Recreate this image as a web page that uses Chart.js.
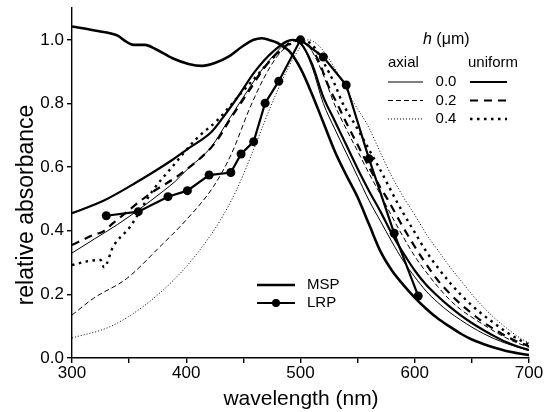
<!DOCTYPE html>
<html>
<head>
<meta charset="utf-8">
<script src="https://cdn.jsdelivr.net/npm/chart.js@4/dist/chart.umd.min.js"></script>
<style>
  body { margin: 0; background: #fff; }
  canvas { display: block; }
</style>
</head>
<body>
<canvas id="chart" width="551" height="412"></canvas>
<script>
// measured spectra
const mspWl  = [300, 320, 340, 347, 354, 364, 373, 388, 402, 414, 425, 437, 449, 459, 466, 472, 480, 490, 500, 510, 520, 530, 540, 550, 560, 570, 580, 590, 600, 610, 620, 630, 640, 650, 660, 670, 680, 690, 700];
const mspAbs = [1.042, 1.029, 1.013, 0.995, 0.984, 0.984, 0.971, 0.942, 0.924, 0.918, 0.927, 0.947, 0.979, 1.0, 1.005, 1.0, 0.99, 0.965, 0.91, 0.83, 0.74, 0.65, 0.575, 0.505, 0.42, 0.335, 0.275, 0.23, 0.19, 0.155, 0.125, 0.10, 0.077, 0.058, 0.044, 0.032, 0.022, 0.015, 0.009];

const lrpWl  = [330, 358, 384, 401, 420, 439, 448, 459, 469, 481, 500, 520, 540, 560, 582, 603];
const lrpAbs = [0.447, 0.46, 0.507, 0.526, 0.575, 0.583, 0.641, 0.68, 0.801, 0.87, 1.0, 0.946, 0.858, 0.626, 0.392, 0.195];

// model spectra, axial (thin) and uniform (thick), h = 0.0 / 0.2 / 0.4 um
const ax0Wl  = [300, 320, 340, 358, 380, 390, 400, 422, 437, 450, 465, 480, 492, 500, 510, 520, 530, 540, 550, 560, 570, 580, 590, 600, 610, 620, 630, 640, 650, 660, 670, 680, 690, 700];
const ax0Abs = [0.33, 0.375, 0.42, 0.465, 0.525, 0.554, 0.59, 0.664, 0.748, 0.82, 0.9, 0.965, 1.0, 0.99, 0.915, 0.8, 0.72, 0.645, 0.57, 0.495, 0.43, 0.365, 0.305, 0.255, 0.21, 0.175, 0.145, 0.12, 0.097, 0.077, 0.06, 0.046, 0.034, 0.024];

const ax2Wl  = [300, 319, 348, 377, 400, 424, 440, 455, 468, 480, 490, 498, 505, 510, 520, 530, 540, 550, 560, 572, 580, 590, 600, 610, 620, 630, 640, 650, 660, 670, 680, 690, 700];
const ax2Abs = [0.135, 0.188, 0.25, 0.35, 0.434, 0.54, 0.645, 0.78, 0.88, 0.95, 0.985, 1.0, 0.99, 0.965, 0.89, 0.795, 0.72, 0.65, 0.58, 0.5, 0.445, 0.38, 0.32, 0.27, 0.225, 0.185, 0.153, 0.128, 0.105, 0.083, 0.063, 0.047, 0.034];

const ax4Wl  = [300, 333, 362, 392, 412, 430, 444, 455, 465, 475, 485, 495, 507, 515, 525, 535, 547, 559, 570, 580, 591, 600, 610, 620, 630, 640, 650, 660, 670, 680, 690, 700];
const ax4Abs = [0.063, 0.098, 0.161, 0.256, 0.34, 0.434, 0.528, 0.62, 0.71, 0.8, 0.88, 0.95, 1.0, 0.985, 0.94, 0.88, 0.8, 0.73, 0.645, 0.57, 0.5, 0.45, 0.39, 0.34, 0.29, 0.245, 0.2, 0.16, 0.125, 0.095, 0.068, 0.047];

const uni0Wl  = [300, 328, 355, 388, 402, 422, 434, 446, 460, 475, 493, 500, 510, 520, 530, 540, 550, 560, 570, 580, 590, 600, 610, 620, 630, 640, 650, 660, 670, 680, 690, 700];
const uni0Abs = [0.455, 0.495, 0.549, 0.623, 0.659, 0.71, 0.765, 0.825, 0.9, 0.96, 1.0, 0.99, 0.925, 0.82, 0.745, 0.67, 0.595, 0.525, 0.46, 0.39, 0.33, 0.275, 0.23, 0.195, 0.163, 0.135, 0.11, 0.088, 0.068, 0.05, 0.036, 0.025];

const uni2Wl  = [300, 319, 327, 336, 367, 396, 425, 440, 455, 470, 485, 497, 505, 515, 525, 532, 540, 550, 560, 570, 576, 590, 600, 610, 620, 630, 640, 650, 660, 670, 680, 690, 700];
const uni2Abs = [0.355, 0.387, 0.397, 0.424, 0.513, 0.581, 0.675, 0.759, 0.84, 0.92, 0.975, 1.0, 0.99, 0.94, 0.85, 0.8, 0.74, 0.67, 0.6, 0.535, 0.5, 0.41, 0.35, 0.295, 0.245, 0.205, 0.17, 0.14, 0.112, 0.09, 0.068, 0.051, 0.037];

const uni4Wl  = [300, 315, 325, 328, 336, 351, 370, 388, 408, 428, 445, 460, 475, 490, 500, 510, 520, 530, 537, 550, 560, 570, 583, 590, 600, 610, 620, 630, 640, 650, 660, 670, 680, 690, 700];
const uni4Abs = [0.292, 0.305, 0.308, 0.285, 0.35, 0.413, 0.523, 0.602, 0.686, 0.75, 0.82, 0.88, 0.94, 0.985, 1.0, 0.985, 0.93, 0.86, 0.8, 0.72, 0.655, 0.59, 0.5, 0.455, 0.395, 0.335, 0.285, 0.24, 0.2, 0.165, 0.135, 0.108, 0.082, 0.06, 0.042];

const xTicks = [300, 350, 400, 450, 500, 550, 600, 650, 700];
const yTicks = [0.0, 0.2, 0.4, 0.6, 0.8, 1.0];
const hValues = ['0.0', '0.2', '0.4'];

const FONT = '"Liberation Sans", Arial, sans-serif';
const pts = (xs, ys) => xs.map((x, i) => ({ x, y: ys[i] }));

function model(label, xs, ys, width, dash) {
  return {
    label, data: pts(xs, ys),
    borderColor: '#000', borderWidth: width, borderDash: dash,
    borderCapStyle: 'butt', pointRadius: 0, fill: false,
    cubicInterpolationMode: 'monotone'
  };
}

const axial = [
  model('axial 0.0', ax0Wl, ax0Abs, 1, []),
  model('axial 0.2', ax2Wl, ax2Abs, 1, [5, 3]),
  model('axial 0.4', ax4Wl, ax4Abs, 1, [1, 2])
];
const uniform = [
  model('uniform 0.0', uni0Wl, uni0Abs, 2.2, []),
  model('uniform 0.2', uni2Wl, uni2Abs, 2.2, [8, 6]),
  model('uniform 0.4', uni4Wl, uni4Abs, 2.4, [2.5, 4.5])
];
const msp = model('MSP', mspWl, mspAbs, 2.6, []);
const lrp = {
  label: 'LRP', data: pts(lrpWl, lrpAbs),
  borderColor: '#000', borderWidth: 2.2, tension: 0,
  pointRadius: 4.5, pointBackgroundColor: '#000', pointBorderWidth: 0
};

// hand-placed legends and axis titles, as in the original figure
const overlay = {
  id: 'overlay',
  afterDraw(chart) {
    const c = chart.ctx;
    c.save();
    c.fillStyle = '#000';
    c.textBaseline = 'middle';

    const sample = (ds, x0, x1, y) => {
      c.beginPath();
      c.lineWidth = ds.borderWidth;
      c.setLineDash(ds.borderDash || []);
      c.lineCap = 'butt';
      c.moveTo(x0, y); c.lineTo(x1, y);
      c.strokeStyle = '#000';
      c.stroke();
      c.setLineDash([]);
    };

    // h legend
    c.font = 'italic 16px ' + FONT;
    c.textAlign = 'left';
    c.fillText('h', 423, 40);
    const hw = c.measureText('h ').width;
    c.font = '16px ' + FONT;
    c.fillText('(\u03bcm)', 423 + hw, 40);
    c.font = '15px ' + FONT;
    c.fillText('axial', 388, 63);
    c.fillText('uniform', 468, 63);
    hValues.forEach((h, i) => {
      const y = 82 + i * 18.5;
      sample(axial[i], 388, 423, y);
      c.textAlign = 'center';
      c.fillText(h, 446, y);
      c.textAlign = 'left';
      sample(uniform[i], 470, 507, y);
    });

    // MSP / LRP legend
    sample(msp, 257, 295, 285);
    sample(lrp, 257, 295, 303);
    c.beginPath();
    c.arc(276, 303, 4, 0, Math.PI * 2);
    c.fill();
    c.fillText('MSP', 307, 285);
    c.fillText('LRP', 307, 303);

    // axis titles
    c.font = '21px ' + FONT;
    c.textAlign = 'center';
    c.fillText('wavelength (nm)', 301, 399);
    c.font = '23px ' + FONT;
    c.translate(27, 205);
    c.rotate(-Math.PI / 2);
    c.fillText('relative absorbance', 0, 0);
    c.restore();
  }
};

const axisStyle = {
  grid: { display: true, drawOnChartArea: false, drawTicks: true, tickLength: 5, color: '#000', lineWidth: 1.4 },
  border: { display: true, color: '#000', width: 1.4 }
};

new Chart(document.getElementById('chart'), {
  type: 'line',
  data: { datasets: [...axial, ...uniform, msp, lrp] },
  options: {
    responsive: false,
    animation: false,
    layout: { padding: { left: 0, top: 8, right: 22, bottom: 0 } },
    plugins: { legend: { display: false }, tooltip: { enabled: false } },
    scales: {
      x: {
        type: 'linear', min: 300, max: 700,
        ...axisStyle,
        afterBuildTicks: s => { s.ticks = xTicks.map(v => ({ value: v })); },
        afterFit: s => { s.height = 54; s.paddingLeft = 0; s.paddingRight = 0; },
        ticks: {
          color: '#000', padding: 0, maxRotation: 0, autoSkip: false,
          font: { family: FONT, size: 17 },
          callback: v => (v % 100 === 0 ? String(v) : '')
        }
      },
      y: {
        type: 'linear', min: 0, max: 1.1,
        ...axisStyle,
        afterBuildTicks: s => { s.ticks = yTicks.map(v => ({ value: v })); },
        afterFit: s => { s.width = 72; s.paddingTop = 0; s.paddingBottom = 0; },
        ticks: {
          color: '#000', padding: 3,
          font: { family: FONT, size: 17 },
          callback: v => v.toFixed(1)
        }
      }
    }
  },
  plugins: [overlay]
});
</script>
</body>
</html>
